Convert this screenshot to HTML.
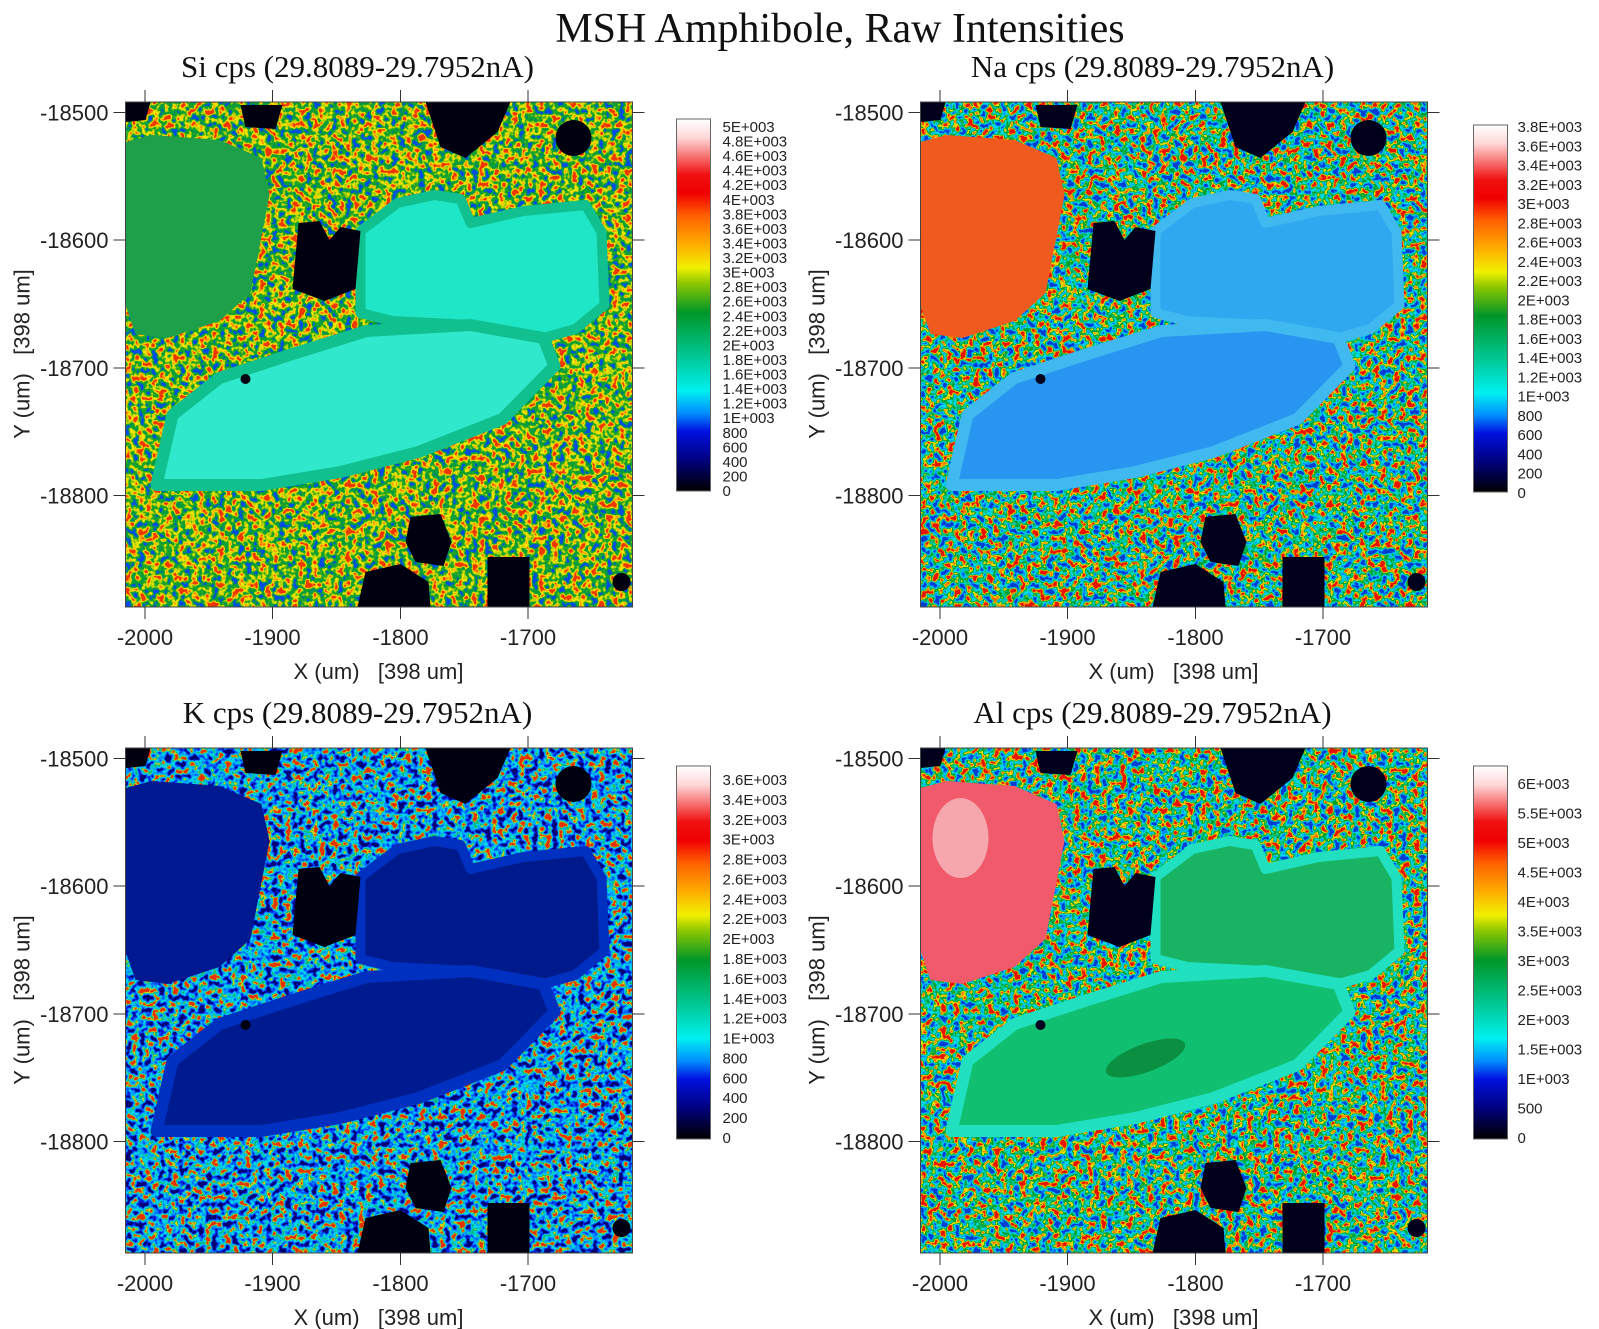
<!DOCTYPE html>
<html><head><meta charset="utf-8"><style>
body{margin:0;background:#fff;}
svg{display:block;}
.t{font-family:"Liberation Sans",sans-serif;font-size:22px;fill:#222;}
.c{font-family:"Liberation Sans",sans-serif;font-size:15px;fill:#222;}
.s{font-family:"Liberation Serif",serif;font-size:31px;fill:#111;}
</style></head><body>
<svg width="1599" height="1329" viewBox="0 0 1599 1329" xmlns="http://www.w3.org/2000/svg">
<defs>
<linearGradient id="cb" x1="0" y1="1" x2="0" y2="0">
<stop offset="0" stop-color="#000"/><stop offset="0.08" stop-color="#00007a"/><stop offset="0.16" stop-color="#0010e0"/><stop offset="0.21" stop-color="#0090ff"/><stop offset="0.27" stop-color="#00f0f0"/><stop offset="0.36" stop-color="#00c896"/><stop offset="0.48" stop-color="#009628"/><stop offset="0.56" stop-color="#90c800"/><stop offset="0.6" stop-color="#f0f000"/><stop offset="0.66" stop-color="#ffb000"/><stop offset="0.74" stop-color="#ff6000"/><stop offset="0.8" stop-color="#f00000"/><stop offset="0.85" stop-color="#f01010"/><stop offset="0.95" stop-color="#ffd8d8"/><stop offset="1" stop-color="#fff"/>
</linearGradient>
<clipPath id="cp"><rect x="0" y="0" width="507" height="505"/></clipPath>
<filter id="nSi" x="0" y="0" width="507" height="505" filterUnits="userSpaceOnUse" color-interpolation-filters="sRGB">
<feTurbulence type="fractalNoise" baseFrequency="0.15" numOctaves="2" seed="3"/>
<feColorMatrix values="1 0 0 0 0 1 0 0 0 0 1 0 0 0 0 0 0 0 0 1"/>
<feComponentTransfer><feFuncR type="linear" slope="2.3" intercept="-0.65"/><feFuncG type="linear" slope="2.3" intercept="-0.65"/><feFuncB type="linear" slope="2.3" intercept="-0.65"/></feComponentTransfer>
<feComponentTransfer><feFuncR type="discrete" tableValues="0 0 0.05 0.15 0.7 0.96 1 0.92"/><feFuncG type="discrete" tableValues="0.3 0.6 0.62 0.66 0.82 0.9 0.6 0.22"/><feFuncB type="discrete" tableValues="0.9 0.3 0.2 0.15 0.02 0 0 0"/></feComponentTransfer>
</filter>
<filter id="nNa" x="0" y="0" width="507" height="505" filterUnits="userSpaceOnUse" color-interpolation-filters="sRGB">
<feTurbulence type="fractalNoise" baseFrequency="0.15" numOctaves="2" seed="7"/>
<feColorMatrix values="1 0 0 0 0 1 0 0 0 0 1 0 0 0 0 0 0 0 0 1"/>
<feComponentTransfer><feFuncR type="linear" slope="2.4" intercept="-0.7"/><feFuncG type="linear" slope="2.4" intercept="-0.7"/><feFuncB type="linear" slope="2.4" intercept="-0.7"/></feComponentTransfer>
<feComponentTransfer><feFuncR type="discrete" tableValues="0 0 0 0 0 0.9 1 0.9"/><feFuncG type="discrete" tableValues="0.24 0.55 0.86 0.78 0.63 0.86 0.51 0.08"/><feFuncB type="discrete" tableValues="0.82 1 0.92 0.55 0.2 0 0 0"/></feComponentTransfer>
</filter>
<filter id="nK" x="0" y="0" width="507" height="505" filterUnits="userSpaceOnUse" color-interpolation-filters="sRGB">
<feTurbulence type="fractalNoise" baseFrequency="0.15" numOctaves="2" seed="11"/>
<feColorMatrix values="1 0 0 0 0 1 0 0 0 0 1 0 0 0 0 0 0 0 0 1"/>
<feComponentTransfer><feFuncR type="linear" slope="2.3" intercept="-0.65"/><feFuncG type="linear" slope="2.3" intercept="-0.65"/><feFuncB type="linear" slope="2.3" intercept="-0.65"/></feComponentTransfer>
<feComponentTransfer><feFuncR type="discrete" tableValues="0 0 0 0 0 0 0.8 0.9"/><feFuncG type="discrete" tableValues="0 0.12 0.35 0.6 0.85 0.72 0.8 0.2"/><feFuncB type="discrete" tableValues="0.45 0.86 1 1 0.92 0.5 0.1 0"/></feComponentTransfer>
</filter>
<filter id="nAl" x="0" y="0" width="507" height="505" filterUnits="userSpaceOnUse" color-interpolation-filters="sRGB">
<feTurbulence type="fractalNoise" baseFrequency="0.15" numOctaves="2" seed="19"/>
<feColorMatrix values="1 0 0 0 0 1 0 0 0 0 1 0 0 0 0 0 0 0 0 1"/>
<feComponentTransfer><feFuncR type="linear" slope="2.4" intercept="-0.7"/><feFuncG type="linear" slope="2.4" intercept="-0.7"/><feFuncB type="linear" slope="2.4" intercept="-0.7"/></feComponentTransfer>
<feComponentTransfer><feFuncR type="discrete" tableValues="0 0 0 0 0 0.9 1 0.9"/><feFuncG type="discrete" tableValues="0.24 0.55 0.86 0.78 0.63 0.86 0.51 0.08"/><feFuncB type="discrete" tableValues="0.82 1 0.92 0.55 0.2 0 0 0"/></feComponentTransfer>
</filter>
<g id="shapes">
<polygon style="fill:var(--lg)" points="0,40 26,33 94,38 136,56 144,93 125,191 94,219 42,236 10,232 0,203"/>
<polygon style="fill:var(--ur);stroke:var(--rim)" stroke-width="10" stroke-linejoin="round" points="235,129 272,101 309,93 335,97 345,121 398,109 460,103 476,130 479,203 450,227 418,236 345,223 267,219 235,211"/>
<polygon style="fill:var(--mg);stroke:var(--rim)" stroke-width="12" stroke-linejoin="round" points="31,383 47,313 94,276 167,252 241,229 345,223 418,236 429,264 377,317 293,350 215,370 136,383"/>
<ellipse style="fill:var(--ctr)" cx="225" cy="310" rx="42" ry="14" transform="rotate(-20 225 310)"/>
<g style="fill:var(--hole)">
<polygon points="173,121 194,119 204,138 215,125 235,129 230,187 199,199 167,187"/>
<polygon points="300,0 385,0 372,30 340,56 315,45"/>
<polygon points="115,3 157,3 150,27 120,25"/>
<ellipse cx="448" cy="36" rx="18" ry="18"/>
<polygon points="285,415 315,412 326,440 318,464 290,460 280,440"/>
<polygon points="240,470 275,462 303,480 305,505 232,505"/>
<rect x="362" y="455" width="42" height="50"/>
<circle cx="120" cy="277" r="5"/>
<circle cx="496" cy="480" r="9"/>
<polygon points="0,0 25,0 20,18 0,20"/>
</g>
</g>
</defs>

<text x="840" y="42" text-anchor="middle" style="font-family:'Liberation Serif',serif;font-size:42px;fill:#111">MSH Amphibole, Raw Intensities</text>

<g transform="translate(125.5,102)">
<text class="s" x="232" y="-25" text-anchor="middle">Si cps (29.8089-29.7952nA)</text>
<g clip-path="url(#cp)">
<rect x="0" y="0" width="507" height="505" filter="url(#nSi)"/>
<use href="#shapes" style="--lg:#1ea04a;--ur:#20e6c8;--mg:#30e8cc;--rim:#10c08e;--ctr:#30e8cc;--hole:#000010"/>
</g>
<g id="axes">
<rect x="0" y="0" width="507" height="505" fill="none" stroke="#444" stroke-width="1"/>
<g stroke="#333" stroke-width="1">
<path d="M-12 10.5H0M-12 138H0M-12 266H0M-12 393.5H0M507 10.5H519M507 138H519M507 266H519M507 393.5H519"/>
<path d="M19.5 -12V0M147 -12V0M275 -12V0M402.5 -12V0M19.5 505V517M147 505V517M275 505V517M402.5 505V517"/>
</g>
<g class="t" text-anchor="end">
<text x="-17" y="18.5">-18500</text><text x="-17" y="146">-18600</text><text x="-17" y="274">-18700</text><text x="-17" y="401.5">-18800</text>
</g>
<g class="t" text-anchor="middle">
<text x="19.5" y="543">-2000</text><text x="147" y="543">-1900</text><text x="275" y="543">-1800</text><text x="402.5" y="543">-1700</text>
<text x="253" y="577" xml:space="preserve">X (um)   [398 um]</text>
<text transform="translate(-96,252) rotate(-90)" xml:space="preserve">Y (um)   [398 um]</text>
</g>
</g>
<rect x="551" y="17" width="34" height="372" fill="url(#cb)" stroke="#666"/>
<g class="c">
<text x="597" y="30">5E+003</text><text x="597" y="44.6">4.8E+003</text><text x="597" y="59.1">4.6E+003</text><text x="597" y="73.7">4.4E+003</text><text x="597" y="88.2">4.2E+003</text><text x="597" y="102.8">4E+003</text><text x="597" y="117.4">3.8E+003</text><text x="597" y="131.9">3.6E+003</text><text x="597" y="146.5">3.4E+003</text><text x="597" y="161">3.2E+003</text><text x="597" y="175.6">3E+003</text><text x="597" y="190.2">2.8E+003</text><text x="597" y="204.7">2.6E+003</text><text x="597" y="219.3">2.4E+003</text><text x="597" y="233.8">2.2E+003</text><text x="597" y="248.4">2E+003</text><text x="597" y="263">1.8E+003</text><text x="597" y="277.5">1.6E+003</text><text x="597" y="292.1">1.4E+003</text><text x="597" y="306.6">1.2E+003</text><text x="597" y="321.2">1E+003</text><text x="597" y="335.8">800</text><text x="597" y="350.3">600</text><text x="597" y="364.9">400</text><text x="597" y="379.4">200</text><text x="597" y="394">0</text>
</g>
</g>

<g transform="translate(920.5,102)">
<text class="s" x="232" y="-25" text-anchor="middle">Na cps (29.8089-29.7952nA)</text>
<g clip-path="url(#cp)">
<rect x="0" y="0" width="507" height="505" filter="url(#nNa)"/>
<use href="#shapes" style="--lg:#f05a1e;--ur:#30a8f0;--mg:#2896f0;--rim:#40b8f0;--ctr:#2896f0;--hole:#00001c"/>
</g>
<use href="#axes"/>
<rect x="553" y="23" width="34" height="367" fill="url(#cb)" stroke="#666"/>
<g class="c">
<text x="597" y="30">3.8E+003</text><text x="597" y="49.3">3.6E+003</text><text x="597" y="68.5">3.4E+003</text><text x="597" y="87.8">3.2E+003</text><text x="597" y="107">3E+003</text><text x="597" y="126.3">2.8E+003</text><text x="597" y="145.6">2.6E+003</text><text x="597" y="164.8">2.4E+003</text><text x="597" y="184.1">2.2E+003</text><text x="597" y="203.3">2E+003</text><text x="597" y="222.6">1.8E+003</text><text x="597" y="241.9">1.6E+003</text><text x="597" y="261.1">1.4E+003</text><text x="597" y="280.4">1.2E+003</text><text x="597" y="299.6">1E+003</text><text x="597" y="318.9">800</text><text x="597" y="338.2">600</text><text x="597" y="357.4">400</text><text x="597" y="376.7">200</text><text x="597" y="396">0</text>
</g>
</g>

<g transform="translate(125.5,748)">
<text class="s" x="232" y="-25" text-anchor="middle">K cps (29.8089-29.7952nA)</text>
<g clip-path="url(#cp)">
<rect x="0" y="0" width="507" height="505" filter="url(#nK)"/>
<use href="#shapes" style="--lg:#001890;--ur:#001a8c;--mg:#001a90;--rim:#0030c0;--ctr:#001a90;--hole:#000010"/>
</g>
<use href="#axes"/>
<rect x="551" y="18" width="34" height="373" fill="url(#cb)" stroke="#666"/>
<g class="c">
<text x="597" y="37">3.6E+003</text><text x="597" y="56.9">3.4E+003</text><text x="597" y="76.8">3.2E+003</text><text x="597" y="96.7">3E+003</text><text x="597" y="116.6">2.8E+003</text><text x="597" y="136.4">2.6E+003</text><text x="597" y="156.3">2.4E+003</text><text x="597" y="176.2">2.2E+003</text><text x="597" y="196.1">2E+003</text><text x="597" y="216">1.8E+003</text><text x="597" y="235.9">1.6E+003</text><text x="597" y="255.8">1.4E+003</text><text x="597" y="275.7">1.2E+003</text><text x="597" y="295.6">1E+003</text><text x="597" y="315.4">800</text><text x="597" y="335.3">600</text><text x="597" y="355.2">400</text><text x="597" y="375.1">200</text><text x="597" y="395">0</text>
</g>
</g>

<g transform="translate(920.5,748)">
<text class="s" x="232" y="-25" text-anchor="middle">Al cps (29.8089-29.7952nA)</text>
<g clip-path="url(#cp)">
<rect x="0" y="0" width="507" height="505" filter="url(#nAl)"/>
<use href="#shapes" style="--lg:#f05a6a;--ur:#18b464;--mg:#10c070;--rim:#20e0c0;--ctr:#0a9040;--hole:#00001c"/>
<ellipse cx="40" cy="90" rx="28" ry="40" fill="#f8c8cc" opacity="0.7"/>
</g>
<use href="#axes"/>
<rect x="553" y="18" width="34" height="373" fill="url(#cb)" stroke="#666"/>
<g class="c">
<text x="597" y="41">6E+003</text><text x="597" y="70.5">5.5E+003</text><text x="597" y="100">5E+003</text><text x="597" y="129.5">4.5E+003</text><text x="597" y="159">4E+003</text><text x="597" y="188.5">3.5E+003</text><text x="597" y="218">3E+003</text><text x="597" y="247.5">2.5E+003</text><text x="597" y="277">2E+003</text><text x="597" y="306.5">1.5E+003</text><text x="597" y="336">1E+003</text><text x="597" y="365.5">500</text><text x="597" y="395">0</text>
</g>
</g>
</svg>
</body></html>
